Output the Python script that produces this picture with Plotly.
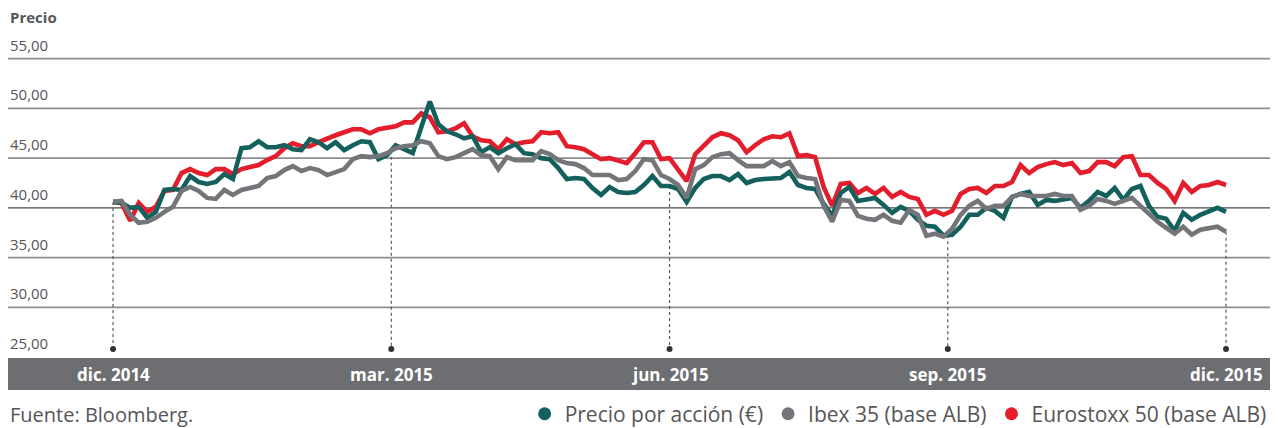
import numpy as np
import plotly.graph_objects as go

# ---------------- data ----------------
# one sample every two trading days, 1 Dec 2014 -> 1 Dec 2015
tick_labels = ["dic. 2014", "mar. 2015", "jun. 2015", "sep. 2015", "dic. 2015"]
tick_index = [0, 32.5, 65, 97.5, 130]

precio = [
    40.6, 40.5, 40.0, 40.1, 39.0, 39.6, 41.8, 41.9, 41.8, 43.2,
    42.6, 42.4, 42.6, 43.4, 42.9, 46.0, 46.1, 46.7, 46.1, 46.1,
    46.3, 45.9, 45.8, 46.9, 46.6, 46.0, 46.6, 45.8, 46.3, 46.7,
    46.6, 44.9, 45.3, 46.3, 45.9, 45.5, 48.1, 50.7, 48.4, 47.7,
    47.4, 47.0, 47.2, 45.6, 46.1, 45.5, 46.0, 46.4, 45.5, 45.4,
    45.0, 44.9, 44.0, 42.9, 43.0, 42.9, 42.0, 41.3, 42.1, 41.6,
    41.5, 41.6, 42.3, 43.2, 42.2, 42.2, 41.9, 40.6, 42.0, 42.9,
    43.2, 43.2, 42.8, 43.4, 42.5, 42.8, 42.9, 43.0, 43.0, 43.6,
    42.3, 42.0, 41.9, 40.4, 39.2, 41.5, 42.1, 40.7, 40.9, 41.0,
    40.3, 39.5, 40.1, 39.7, 38.8, 38.2, 38.1, 37.2, 37.3, 38.1,
    39.3, 39.3, 40.0, 39.7, 39.0, 41.1, 41.4, 41.6, 40.3, 40.8,
    40.7, 40.8, 41.0, 40.0, 40.7, 41.6, 41.2, 42.0, 40.8, 41.9,
    42.2, 40.2, 39.1, 38.9, 37.7, 39.5, 38.8, 39.3, 39.7, 40.0,
    39.6,
]

ibex = [
    40.6, 40.7, 39.3, 38.5, 38.6, 39.0, 39.6, 40.1, 41.7, 42.1,
    41.7, 41.0, 40.9, 41.8, 41.3, 41.8, 42.0, 42.2, 43.0, 43.2,
    43.8, 44.2, 43.7, 44.0, 43.8, 43.3, 43.6, 43.9, 44.9, 45.2,
    45.1, 45.2, 45.5, 46.0, 46.2, 46.3, 46.7, 46.5, 45.2, 44.9,
    45.1, 45.5, 45.9, 45.3, 45.2, 43.9, 45.1, 44.8, 44.8, 44.8,
    45.7, 45.4, 44.8, 44.5, 44.4, 44.0, 43.3, 43.3, 43.3, 42.8,
    42.9, 43.7, 44.9, 44.8, 43.3, 42.9, 42.3, 41.0, 43.9, 44.3,
    45.1, 45.4, 45.5, 44.8, 44.2, 44.2, 44.2, 44.7, 44.2, 44.6,
    43.2, 43.0, 42.9, 40.2, 38.6, 40.8, 40.7, 39.2, 38.9, 38.8,
    39.3, 38.7, 38.5, 39.8, 39.3, 37.2, 37.4, 37.1, 37.9, 39.3,
    40.2, 40.7, 39.9, 40.2, 40.2, 41.1, 41.4, 41.2, 41.2, 41.2,
    41.4, 41.2, 41.2, 39.8, 40.2, 40.9, 40.7, 40.4, 40.7, 41.0,
    40.2, 39.4, 38.6, 38.0, 37.4, 38.1, 37.3, 37.8, 38.0, 38.1,
    37.6,
]

eurostoxx = [
    40.6, 40.5, 38.7, 40.5, 39.6, 40.1, 41.7, 41.8, 43.5, 43.9,
    43.5, 43.3, 43.9, 43.9, 43.4, 43.9, 44.1, 44.3, 44.8, 45.2,
    46.0, 46.5, 46.2, 46.2, 46.6, 47.0, 47.3, 47.6, 47.9, 47.9,
    47.5, 47.9, 48.1, 48.2, 48.6, 48.6, 49.5, 49.1, 47.6, 47.7,
    48.0, 48.5, 47.2, 46.8, 46.7, 45.9, 46.9, 46.4, 46.6, 46.7,
    47.6, 47.5, 47.6, 46.2, 46.1, 45.9, 45.4, 44.9, 45.0, 44.7,
    44.5, 45.5, 46.6, 46.6, 44.9, 45.0, 43.8, 42.7, 45.4, 46.2,
    47.1, 47.5, 47.3, 46.8, 45.6, 46.3, 46.9, 47.2, 47.1, 47.5,
    45.2, 45.3, 45.1, 42.1, 40.2, 42.4, 42.5, 41.5, 42.0, 41.4,
    42.0, 41.1, 41.6, 41.1, 40.9, 39.3, 39.7, 39.3, 39.7, 41.4,
    41.9, 42.0, 41.5, 42.2, 42.2, 42.6, 44.3, 43.5, 44.1, 44.4,
    44.6, 44.3, 44.5, 43.5, 43.7, 44.6, 44.6, 44.2, 45.1, 45.2,
    43.3, 43.3, 42.5, 41.9, 40.7, 42.5, 41.6, 42.2, 42.3, 42.6,
    42.3,
]

y_ticks = [25, 30, 35, 40, 45, 50, 55]

names = ["Precio por acción (€)", "Ibex 35 (base ALB)", "Eurostoxx 50 (base ALB)"]
colors = ["#13605c", "#747578", "#e31d2b"]

# ---------------- figure ----------------
n = min(len(precio), len(ibex), len(eurostoxx))
idx = np.arange(n)
series = [np.array(precio[:n]), np.array(ibex[:n]), np.array(eurostoxx[:n])]

fig = go.Figure()
anchor_level = 25.8
FONT = "Open Sans"
TXT = "#555658"

# dotted drop lines from the lowest series to the axis
for t in tick_index:
    low = min(np.interp(t, idx, s) for s in series)
    fig.add_trace(go.Scatter(x=[t, t], y=[low, anchor_level], mode="lines",
                             line=dict(color="#5a5a5a", width=1.2, dash="dot"),
                             hoverinfo="skip", showlegend=False))
    fig.add_trace(go.Scatter(x=[t], y=[anchor_level], mode="markers",
                             marker=dict(color="#333333", size=6),
                             hoverinfo="skip", showlegend=False))

# lines (red at bottom, then green, then gray)
for k in [2, 0, 1]:
    fig.add_trace(go.Scatter(x=idx, y=series[k], mode="lines", name=names[k],
                             line=dict(color=colors[k], width=4.6),
                             showlegend=False))

# legend entries as circles
for k in [0, 1, 2]:
    fig.add_trace(go.Scatter(x=[None], y=[None], mode="markers", name=names[k],
                             marker=dict(color=colors[k], size=13)))

shapes = []
for v in y_ticks:
    if v == 25:
        continue
    shapes.append(dict(type="line", xref="paper", x0=0, x1=1, yref="y", y0=v, y1=v,
                       line=dict(color="#4a4a4a" if v == 40 else "#8e8e8e",
                                 width=1.3 if v == 40 else 1.8),
                       layer="below"))
# axis band
shapes.append(dict(type="rect", xref="paper", yref="paper", x0=0, x1=1,
                   y0=-0.0948, y1=-0.003, fillcolor="#6d6e71", line=dict(width=0),
                   layer="above"))

annotations = []
for v in y_ticks:
    annotations.append(dict(x=0, xref="paper", y=v, yref="y", xanchor="left",
                            yanchor="bottom", yshift=2,
                            text=f"{v:.2f}".replace(".", ","), showarrow=False,
                            font=dict(family=FONT, size=15, color=TXT)))
annotations.append(dict(x=0, xref="paper", y=0.977, yref="paper", xanchor="left",
                        yanchor="middle", text="<b>Precio</b>", showarrow=False,
                        font=dict(family=FONT, size=15, color=TXT)))
for t, lab in zip(tick_index, tick_labels):
    annotations.append(dict(x=t, xref="x", y=-0.049, yref="paper", xanchor="center",
                            yanchor="middle", text=f"<b>{lab}</b>", showarrow=False,
                            font=dict(family=FONT, size=17, color="#ffffff")))
annotations.append(dict(x=0, xref="paper", y=-0.164, yref="paper", xanchor="left",
                        yanchor="middle", text="Fuente: Bloomberg.", showarrow=False,
                        font=dict(family=FONT, size=20, color=TXT)))

fig.update_layout(
    width=1270, height=420,
    margin=dict(l=0, r=0, t=1, b=71, autoexpand=False),
    paper_bgcolor="white", plot_bgcolor="white",
    xaxis=dict(range=[-12.27, 136.07], showgrid=False, zeroline=False,
               showticklabels=False, showline=False, fixedrange=True),
    yaxis=dict(range=[25, 60], showgrid=False, zeroline=False,
               showticklabels=False, showline=False, fixedrange=True),
    shapes=shapes, annotations=annotations,
    showlegend=True,
    legend=dict(orientation="h", x=0.995, xanchor="right", y=-0.164,
                yanchor="middle", font=dict(family=FONT, size=21, color=TXT),
                bgcolor="rgba(0,0,0,0)", itemclick=False, itemdoubleclick=False,
                tracegroupgap=0),
)

fig.write_html("out.html")
